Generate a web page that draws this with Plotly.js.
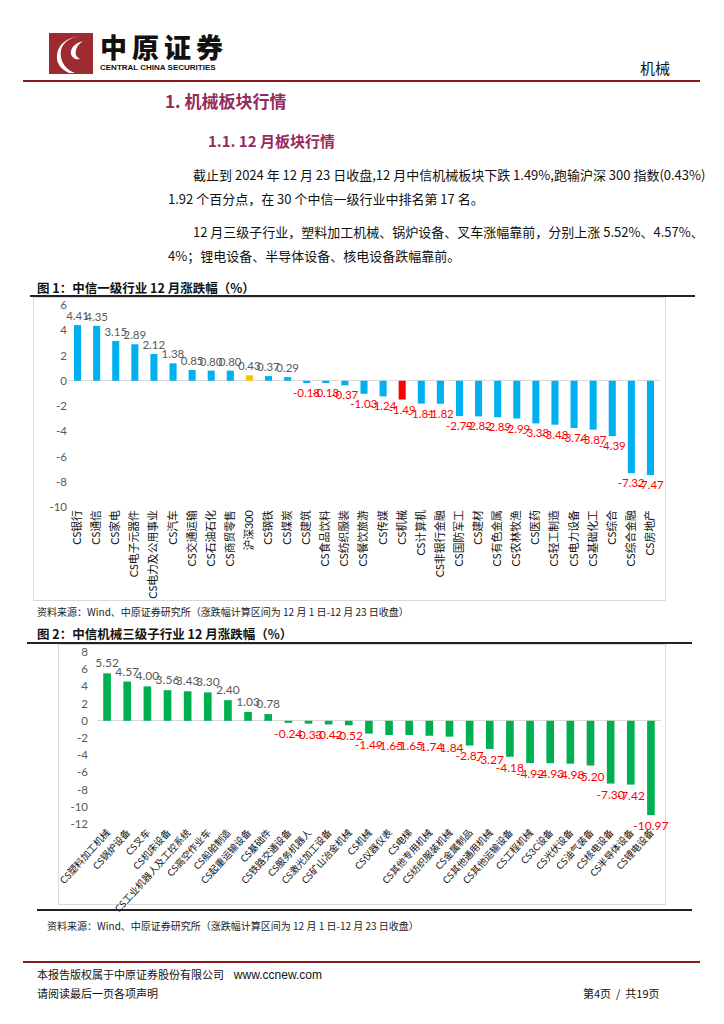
<!DOCTYPE html>
<html><head><meta charset="utf-8">
<script src="https://cdn.plot.ly/plotly-3.0.1.min.js"></script>
<style>
html,body{margin:0;padding:0;background:#fff;}
body{width:724px;height:1024px;position:relative;overflow:hidden;font-family:"Noto Sans CJK SC","Liberation Sans",sans-serif;color:#111;}
.abs{position:absolute;white-space:nowrap;}
.hline{position:absolute;}
.para{position:absolute;font-size:13px;line-height:16px;white-space:nowrap;}
.just{text-align:justify;text-align-last:justify;}
.figt{position:absolute;font-size:12.5px;font-weight:bold;white-space:nowrap;}
.src{position:absolute;font-size:10px;color:#222;white-space:nowrap;}
.box{position:absolute;border:1px solid #d9d9d9;box-sizing:border-box;}
</style></head>
<body>
<!-- header -->
<svg class="abs" style="left:49px;top:33px" width="44" height="41" viewBox="0 0 44 41">
  <rect x="0" y="0" width="44" height="41" fill="#9e2b2f"/>
  <path d="M30 3 C16 6 10 14 12 24 C13 31 18 37 26 40 L20 40 C11 36 7 29 8 22 C9 12 17 5 30 3 Z" fill="#fff"/>
  <path d="M34 8 C26 10 21 15 22 21 C23 25 27 27 31 26 C27 24 26 21 27 17 C28 13 31 10 34 8 Z" fill="#fff"/>
</svg>
<div class="abs" style="left:100px;top:35px;font-size:27px;font-weight:900;letter-spacing:5px;line-height:24px;">中原证券</div>
<div class="abs" style="left:100px;top:63px;font-family:'Liberation Sans';font-size:8px;font-weight:bold;line-height:9px;">CENTRAL CHINA SECURITIES</div>
<div class="abs" style="left:640px;top:59px;font-size:15px;line-height:18px;">机械</div>
<div class="hline" style="left:23px;top:80px;width:677px;height:2px;background:#8b1a1a;"></div>

<div class="abs" style="left:165px;top:90px;font-size:17px;font-weight:bold;color:#962a5c;line-height:22px;">1. 机械板块行情</div>
<div class="abs" style="left:208px;top:131px;font-size:15px;font-weight:bold;color:#962a5c;line-height:20px;">1.1. 12 月板块行情</div>

<div class="para just" style="left:193px;top:167px;width:510px;">截止到 2024 年 12 月 23 日收盘,12 月中信机械板块下跌 1.49%,跑输沪深 300 指数(0.43%)</div>
<div class="para" style="left:168px;top:191px;">1.92 个百分点，在 30 个中信一级行业中排名第 17 名。</div>
<div class="para just" style="left:193px;top:224px;width:510px;">12 月三级子行业，塑料加工机械、锅炉设备、叉车涨幅靠前，分别上涨 5.52%、4.57%、</div>
<div class="para" style="left:168px;top:248px;">4%；锂电设备、半导体设备、核电设备跌幅靠前。</div>

<div class="figt" style="left:37px;top:278px;">图 1：中信一级行业 12 月涨跌幅（%）</div>
<div class="hline" style="left:30px;top:295px;width:665px;height:2px;background:#222;"></div>
<div class="box" style="left:33px;top:297px;width:633px;height:304px;"></div>
<div id="c1" class="abs" style="left:33px;top:297px;width:642px;height:303px;"></div>
<div class="src" style="left:37px;top:604px;">资料来源：Wind、中原证券研究所（涨跌幅计算区间为 12 月 1 日-12 月 23 日收盘）</div>

<div class="figt" style="left:37px;top:624px;">图 2：中信机械三级子行业 12 月涨跌幅（%）</div>
<div class="hline" style="left:27px;top:642px;width:665px;height:2px;background:#222;"></div>
<div class="box" style="left:58px;top:644px;width:608px;height:261px;"></div>
<div id="c2" class="abs" style="left:30px;top:644px;width:645px;height:270px;"></div>
<div class="hline" style="left:37px;top:909px;width:655px;height:2px;background:#222;"></div>
<div class="src" style="left:47px;top:918px;">资料来源：Wind、中原证券研究所（涨跌幅计算区间为 12 月 1 日-12 月 23 日收盘）</div>

<div class="hline" style="left:23px;top:961px;width:677px;height:2px;background:#8b1a1a;"></div>
<div class="abs" style="left:37px;top:967px;font-size:11px;line-height:14px;">本报告版权属于中原证券股份有限公司&nbsp;&nbsp;&nbsp;&nbsp;<span style="font-family:'Liberation Sans';font-size:12px;">www.ccnew.com</span></div>
<div class="abs" style="left:37px;top:986px;font-size:11px;line-height:14px;">请阅读最后一页各项声明</div>
<div class="abs" style="left:583px;top:986px;font-size:11px;line-height:14px;">第4页&nbsp;&nbsp;/&nbsp;&nbsp;共19页</div>

<script>
// ---- Chart 1 data: 中信一级行业 12 月涨跌幅 (%) ----
const industryNames = ["CS银行","CS通信","CS家电","CS电子元器件","CS电力及公用事业","CS汽车","CS交通运输","CS石油石化","CS商贸零售","沪深300","CS钢铁","CS煤炭","CS建筑","CS食品饮料","CS纺织服装","CS餐饮旅游","CS传媒","CS机械","CS计算机","CS非银行金融","CS国防军工","CS建材","CS有色金属","CS农林牧渔","CS医药","CS轻工制造","CS电力设备","CS基础化工","CS综合","CS综合金融","CS房地产"];
const industryChange = [4.41,4.35,3.15,2.89,2.12,1.38,0.85,0.80,0.80,0.43,0.37,0.29,-0.18,-0.18,-0.37,-1.03,-1.24,-1.49,-1.81,-1.82,-2.79,-2.82,-2.89,-2.99,-3.38,-3.48,-3.74,-3.87,-4.39,-7.32,-7.47];
const yTicks1 = [6,4,2,0,-2,-4,-6,-8,-10];

// ---- Chart 2 data: 中信机械三级子行业 12 月涨跌幅 (%) ----
const subNames = ["CS塑料加工机械","CS锅炉设备","CS叉车","CS机床设备","CS工业机器人及工控系统","CS高空作业车","CS船舶制造","CS起重运输设备","CS基础件","CS铁路交通设备","CS服务机器人","CS激光加工设备","CS矿山冶金机械","CS机械","CS仪器仪表","CS电梯","CS其他专用机械","CS纺织服装机械","CS金属制品","CS其他通用机械","CS其他运输设备","CS工程机械","CS3C设备","CS光伏设备","CS油气装备","CS核电设备","CS半导体设备","CS锂电设备"];
const subChange = [5.52,4.57,4.00,3.56,3.43,3.30,2.40,1.03,0.78,-0.24,-0.33,-0.42,-0.52,-1.49,-1.65,-1.65,-1.74,-1.84,-2.87,-3.27,-4.18,-4.92,-4.93,-4.98,-5.20,-7.30,-7.42,-10.97];
const yTicks2 = [8,6,4,2,0,-2,-4,-6,-8,-10,-12];

const FONT = "Lato, 'Noto Sans CJK SC', sans-serif";
const GRAY = "#595959";
const labelColor = v => v >= 0 ? GRAY : "#ff0000";

const c1colors = industryNames.map(n => n === "沪深300" ? "#ffc000" : (n === "CS机械" ? "#ff0000" : "#00b0f0"));

Plotly.newPlot("c1", [{
  type: "bar", x: industryNames, y: industryChange,
  marker: {color: c1colors},
  text: industryChange.map(v => v.toFixed(2)),
  textposition: "outside", cliponaxis: false, constraintext: "none",
  textfont: {family: FONT, size: 11.5, color: industryChange.map(labelColor)},
  hoverinfo: "none"
}], {
  width: 642, height: 303,
  margin: {l: 35, r: 15, t: 8, b: 93},
  paper_bgcolor: "rgba(0,0,0,0)", plot_bgcolor: "rgba(0,0,0,0)",
  bargap: 0.63, showlegend: false,
  xaxis: {type: "category", tickangle: -90, tickfont: {family: FONT, size: 10.8, color: "#111"},
          showline: false, showgrid: false, ticks: "", automargin: false},
  yaxis: {range: [-10, 6], tickvals: yTicks1, ticktext: yTicks1.map(String),
          tickfont: {family: FONT, size: 11.5, color: GRAY}, showgrid: false,
          zeroline: true, zerolinecolor: "#d9d9d9", zerolinewidth: 1, showline: false, ticks: "", automargin: false}
}, {displayModeBar: false, staticPlot: true});

Plotly.newPlot("c2", [{
  type: "bar", x: subNames, y: subChange,
  marker: {color: "#00b050"},
  text: subChange.map(v => v.toFixed(2)),
  textposition: "outside", cliponaxis: false, constraintext: "none",
  textfont: {family: FONT, size: 12, color: subChange.map(labelColor)},
  hoverinfo: "none"
}], {
  width: 645, height: 270,
  margin: {l: 67, r: 14, t: 8, b: 90},
  paper_bgcolor: "rgba(0,0,0,0)", plot_bgcolor: "rgba(0,0,0,0)",
  bargap: 0.62, showlegend: false,
  xaxis: {type: "category", tickangle: -48, tickfont: {family: FONT, size: 9.6, color: "#111"},
          showline: false, showgrid: false, ticks: "", automargin: false},
  yaxis: {range: [-12, 8], tickvals: yTicks2, ticktext: yTicks2.map(String),
          tickfont: {family: FONT, size: 11.5, color: GRAY}, showgrid: false, ticklabelstandoff: 8,
          zeroline: true, zerolinecolor: "#d9d9d9", zerolinewidth: 1, showline: false, ticks: "", automargin: false}
}, {displayModeBar: false, staticPlot: true});
</script>
</body></html>
